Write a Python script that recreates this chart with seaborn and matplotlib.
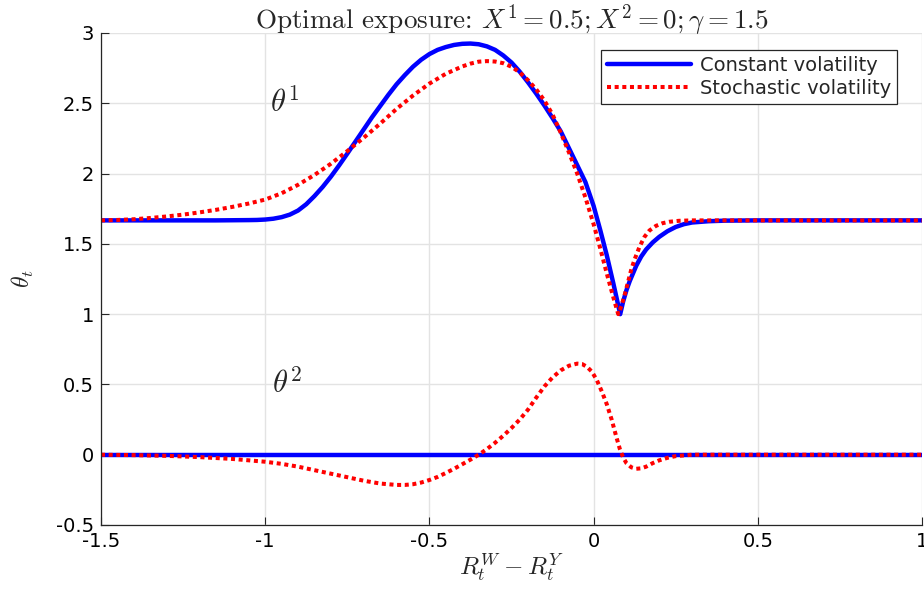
import numpy as np
import pandas as pd
import matplotlib
matplotlib.use("Agg")
import matplotlib.pyplot as plt
import seaborn as sns

# ---- data ----
x_const_1 = [-1.5, -1.3, -1.15, -1.1, -1.05, -1.025, -1.0, -0.975, -0.95, -0.925, -0.9,
             -0.875, -0.85, -0.825, -0.8, -0.775, -0.75, -0.725, -0.7, -0.675, -0.65,
             -0.625, -0.6, -0.575, -0.55, -0.525, -0.5, -0.475, -0.45, -0.425, -0.4,
             -0.375, -0.35, -0.325, -0.3, -0.275, -0.25, -0.225, -0.2, -0.175, -0.15,
             -0.125, -0.1, -0.075, -0.05, -0.025, 0.0, 0.02, 0.04, 0.06, 0.081, 0.09,
             0.1, 0.11, 0.12, 0.13, 0.145, 0.16, 0.18, 0.2, 0.225, 0.25, 0.275, 0.3,
             0.35, 0.4, 0.5, 1.0]
y_const_1 = [1.667, 1.667, 1.667, 1.668, 1.669, 1.670, 1.673, 1.679, 1.690, 1.708, 1.737,
             1.782, 1.840, 1.905, 1.978, 2.058, 2.142, 2.228, 2.314, 2.40, 2.48,
             2.56, 2.635, 2.70, 2.76, 2.81, 2.85, 2.88, 2.90, 2.915, 2.923,
             2.925, 2.92, 2.905, 2.88, 2.84, 2.79, 2.725, 2.65, 2.57, 2.485,
             2.395, 2.30, 2.18, 2.06, 1.94, 1.77, 1.60, 1.42, 1.22, 1.0, 1.09,
             1.17, 1.235, 1.29, 1.345, 1.41, 1.46, 1.51, 1.55, 1.59, 1.62, 1.64, 1.652,
             1.661, 1.665, 1.667, 1.667]

x_stoch_1 = [-1.5, -1.45, -1.4, -1.35, -1.3, -1.25, -1.2, -1.15, -1.1, -1.05, -1.0, -0.95,
             -0.9, -0.85, -0.8, -0.75, -0.7, -0.65, -0.6, -0.55, -0.5, -0.45, -0.4,
             -0.375, -0.35, -0.325, -0.3, -0.275, -0.25, -0.225, -0.2, -0.175, -0.15,
             -0.125, -0.1, -0.075, -0.05, -0.025, 0.0, 0.02, 0.04, 0.06, 0.075, 0.085,
             0.095, 0.105, 0.115, 0.125, 0.14, 0.155, 0.17, 0.19, 0.21, 0.23, 0.26,
             0.3, 1.0]
y_stoch_1 = [1.667, 1.670, 1.675, 1.684, 1.695, 1.708, 1.724, 1.742, 1.763, 1.787, 1.815,
             1.86, 1.92, 1.99, 2.07, 2.16, 2.255, 2.355, 2.46, 2.555, 2.64, 2.71, 2.762,
             2.782, 2.796, 2.80, 2.797, 2.785, 2.76, 2.72, 2.665, 2.60, 2.52,
             2.42, 2.29, 2.15, 2.00, 1.83, 1.64, 1.47, 1.29, 1.12, 1.0, 1.06,
             1.14, 1.23, 1.32, 1.39, 1.48, 1.55, 1.595, 1.628, 1.647, 1.657, 1.664,
             1.667, 1.667]

x_const_2 = [-1.5, 1.0]
y_const_2 = [0.0, 0.0]

x_stoch_2 = [-1.5, -1.4, -1.3, -1.2, -1.1, -1.0, -0.95, -0.9, -0.85, -0.8, -0.75, -0.7,
             -0.65, -0.6, -0.575, -0.55, -0.525, -0.5, -0.475, -0.45, -0.425, -0.4,
             -0.375, -0.35, -0.325, -0.3, -0.275, -0.25, -0.225, -0.2, -0.175, -0.15,
             -0.125, -0.1, -0.075, -0.05, -0.035, -0.02, -0.005, 0.01, 0.025, 0.04,
             0.055, 0.07, 0.08, 0.09, 0.1, 0.115, 0.13, 0.145, 0.16, 0.18, 0.2, 0.225,
             0.25, 0.3, 1.0]
y_stoch_2 = [0.0, -0.003, -0.008, -0.017, -0.03, -0.05, -0.065, -0.085, -0.11, -0.135,
             -0.16, -0.185, -0.205, -0.215, -0.215, -0.21, -0.198, -0.18, -0.158, -0.13,
             -0.10, -0.068, -0.035, 0.0, 0.04, 0.085, 0.135, 0.19, 0.25, 0.32, 0.405,
             0.485, 0.55, 0.60, 0.633, 0.648, 0.645, 0.625, 0.59, 0.53, 0.45, 0.36,
             0.25, 0.12, 0.04, -0.02, -0.06, -0.09, -0.10, -0.097, -0.085, -0.06, -0.04,
             -0.022, -0.01, 0.0, 0.0]

series_labels = ["Constant volatility", "Stochastic volatility"]
x_ticks = [-1.5, -1, -0.5, 0, 0.5, 1]
x_ticklabels = ["-1.5", "-1", "-0.5", "0", "0.5", "1"]
y_ticks = [-0.5, 0, 0.5, 1, 1.5, 2, 2.5, 3]
y_ticklabels = ["-0.5", "0", "0.5", "1", "1.5", "2", "2.5", "3"]

# ---- styling ----
sns.set_style("ticks")
plt.rcParams["font.family"] = ["DejaVu Sans"]
plt.rcParams["mathtext.fontset"] = "cm"

fig = plt.figure(figsize=(9.24, 5.89), dpi=100)
ax = fig.add_axes([101 / 924, 1 - 525 / 589, 821 / 924, 492 / 589])

blue = (0, 0, 1)
red = (1, 0, 0)
lw_b = 3.2
lw_r = 2.9

sns.lineplot(x=x_const_1, y=y_const_1, ax=ax, color=blue, lw=lw_b, sort=False,
             estimator=None, label=series_labels[0])
sns.lineplot(x=x_const_2, y=y_const_2, ax=ax, color=blue, lw=lw_b, sort=False,
             estimator=None)
sns.lineplot(x=x_stoch_1, y=y_stoch_1, ax=ax, color=red, lw=lw_r, sort=False,
             estimator=None, label=series_labels[1])
sns.lineplot(x=x_stoch_2, y=y_stoch_2, ax=ax, color=red, lw=lw_r, sort=False,
             estimator=None)

lines = ax.get_lines()
for ln in lines[2:4]:
    ln.set_linestyle((0, (1.0, 0.9)))
    ln.set_dash_capstyle("butt")
for ln in lines:
    ln.set_solid_joinstyle("round")

ax.set_xlim(-1.5, 1)
ax.set_ylim(-0.5, 3)
ax.set_xticks(x_ticks)
ax.set_xticklabels(x_ticklabels)
ax.set_yticks(y_ticks)
ax.set_yticklabels(y_ticklabels)
ax.tick_params(direction="in", length=6, width=0.8, labelsize=14, colors="#262626",
               labelcolor="black", pad=5)
ax.grid(True, color="#e3e3e3", lw=1.0)
ax.set_axisbelow(True)
for s in ["top", "right"]:
    ax.spines[s].set_visible(False)
for s in ["left", "bottom"]:
    ax.spines[s].set_color("#262626")
    ax.spines[s].set_linewidth(0.9)

fig.text(511.5 / 924, 0.997, r"Optimal exposure: $X^1 = 0.5; X^2 = 0; \gamma = 1.5$",
         fontsize=19.5, family="cmr10", ha="center", va="top")
ax.set_xlabel(r"$R_t^W - R_t^Y$", fontsize=18, labelpad=1)
ax.set_ylabel(r"$\theta_t$", fontsize=17, labelpad=14)

ax.text(-0.94, 2.51, r"$\theta^1$", fontsize=22, ha="center", va="center")
ax.text(-0.935, 0.51, r"$\theta^2$", fontsize=22, ha="center", va="center")

leg = ax.legend(loc="upper right", bbox_to_anchor=((897 - 101) / 821, (525 - 50) / 492),
                fontsize=14, frameon=True, fancybox=False, framealpha=1,
                edgecolor="#262626", handlelength=4.3, handletextpad=0.45,
                borderpad=0.32, labelspacing=0.2, borderaxespad=0)
leg.get_frame().set_linewidth(0.9)

fig.savefig("out.png", dpi=100)
